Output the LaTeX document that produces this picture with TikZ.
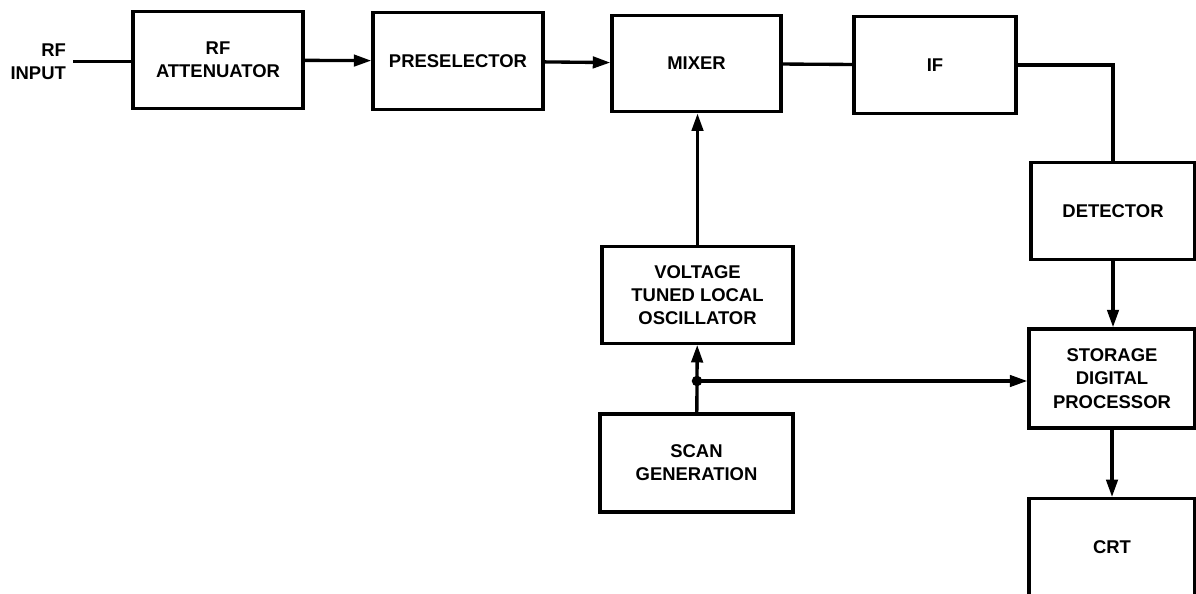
\documentclass[tikz,border=0pt]{standalone}
\usepackage{fontspec}
\setsansfont{Liberation Sans}
\usepackage{tikz}
\usetikzlibrary{arrows.meta,calc,positioning}

\tikzset{
  blk/.style={draw, line width=1.9pt, inner sep=2pt, align=center,
    font=\sffamily\bfseries\fontsize{10.5}{13.2}\selectfont,
    minimum height=1.93cm},
  sig/.style={line width=1.9pt},
  sigarrow/.style={sig, -{Triangle[length=10pt,width=6.5pt]}}
}

\begin{document}
\begin{tikzpicture}[x=0.02cm, y=-0.02cm]
    \useasboundingbox (0,0) rectangle (1196,594);
    % top chain
    \node[font=\sffamily\bfseries\fontsize{10.5}{13.2}\selectfont, align=right, inner sep=1pt, anchor=east] (in) at (68,61.5) {RF\\INPUT};
    \node[blk, minimum width=3.4cm] (att) at (218,60) {RF\\ATTENUATOR};
    \node[blk, minimum width=3.4cm] (pre) at (458,61) {PRESELECTOR};
    \node[blk, minimum width=3.38cm] (mix) at (696.5,63.5) {MIXER};
    \node[blk, minimum width=3.24cm] (if) at (935,65) {IF};
    % right column
    \node[blk, minimum width=3.28cm] (det) at (1113,211) {DETECTOR};
    \node[blk, minimum width=3.32cm, minimum height=1.98cm] (sto) at (1112,378.5) {STORAGE\\DIGITAL\\PROCESSOR};
    \node[blk, minimum width=3.32cm] (crt) at (1112,547) {CRT};
    % oscillator branch
    \node[blk, minimum width=3.82cm] (vco) at (697.5,295) {VOLTAGE\\TUNED LOCAL\\OSCILLATOR};
    \node[blk, minimum width=3.86cm, minimum height=1.96cm] (scan) at (696.5,463) {SCAN\\GENERATION};
    \coordinate (j) at (697,381);

    \draw[sig] ([xshift=3pt]in.east) -- (in.east -| att.west);
    \draw[sigarrow] (att) -- (pre);
    \draw[sigarrow] (pre) -- (mix);
    \draw[sig] (mix) -- (if);
    \draw[sig] (if.east) -| (det.north);
    \draw[sigarrow] (det) -- (det |- sto.north);
    \draw[sigarrow] (sto) -- (sto |- crt.north);
    \draw[sigarrow] (vco) -- (vco |- mix.south);
    \draw[sig] (scan) -- (j);
    \draw[sigarrow] (j) -- (vco);
    \draw[sigarrow] (j) -- (j -| sto.west);
    \fill (j) circle (3pt);
  \end{tikzpicture}
\end{document}
